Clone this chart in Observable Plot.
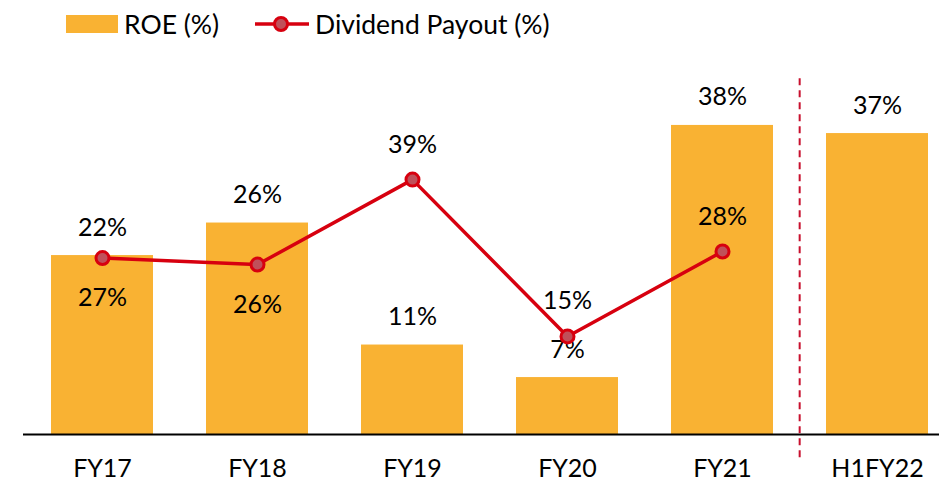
<!DOCTYPE html>
<html>
<head>
<meta charset="utf-8">
<script src="https://cdn.jsdelivr.net/npm/d3@7"></script>
<script src="https://cdn.jsdelivr.net/npm/@observablehq/plot@0.6"></script>
<style>
  html, body { margin: 0; padding: 0; background: #fff; overflow: hidden; }
  body { font-family: Lato, "Liberation Sans", sans-serif; width: 939px; height: 485px; }
  #legend { position: relative; height: 48px; font-size: 26.5px; color: #000; }
  .item { position: absolute; top: 0; height: 48px; display: flex; align-items: center; }
  .swatch { width: 52px; height: 18px; background: #F9B233; margin-right: 6px; }
  #chart svg { display: block; }
</style>
</head>
<body>
<div id="legend">
  <div class="item" style="left:66px;"><div class="swatch"></div><span>ROE (%)</span></div>
  <div class="item" style="left:255px;">
    <svg width="54" height="20" style="margin-right:6px;overflow:visible">
      <line x1="0" y1="10" x2="54" y2="10" stroke="#D7000F" stroke-width="3.5"></line>
      <circle cx="26" cy="10" r="6.5" fill="#C0505A" stroke="#D7000F" stroke-width="3"></circle>
    </svg>
    <span>Dividend Payout (%)</span>
  </div>
</div>
<div id="chart"></div>
<script>
// ---- Data ----
const categories = ["FY17", "FY18", "FY19", "FY20", "FY21", "H1FY22"];
const roe = [22, 26, 11, 7, 38, 37];
const payoutCategories = ["FY17", "FY18", "FY19", "FY20", "FY21"];
const payout = [27, 26, 39, 15, 28];
const payoutLabelSide = ["below", "below", "above", "above", "above"];
const separatorBefore = "H1FY22";

// ---- Axes (primary for ROE, secondary for payout) ----
const roeMax = 45;     // primary axis max
const payoutMax = 56;  // secondary axis max
const toPrimary = v => v * roeMax / payoutMax;

const barData = categories.map((c, i) => ({cat: c, v: roe[i]}));
const lineData = payoutCategories.map((c, i) => ({cat: c, v: payout[i], side: payoutLabelSide[i]}));

const W = 939, H = 437;
const xRange = [23, 957];
const step = (xRange[1] - xRange[0]) / categories.length;
const font = "Lato, 'Liberation Sans', sans-serif";
const red = "#D7000F";

const chart = Plot.plot({
  width: W,
  height: H,
  marginLeft: 23,
  marginRight: 0,
  marginTop: 20,
  marginBottom: 51,
  style: {fontFamily: font, fontSize: "25px", color: "#000", background: "#fff"},
  x: {type: "band", domain: categories, range: xRange, paddingInner: 0.34, paddingOuter: 0.17,
      label: null, tickSize: 0, tickPadding: 25},
  y: {domain: [0, roeMax], axis: null},
  marks: [
    Plot.barY(barData, {x: "cat", y: "v", fill: "#F9B233"}),
    Plot.ruleY([0], {stroke: "#000", strokeWidth: 2}),
    Plot.ruleX([separatorBefore], {x: d => d, y1: -2.85, y2: 44, dx: -step / 2,
      stroke: "#C8102E", strokeWidth: 2, strokeDasharray: "7,5"}),
    Plot.text(barData, {x: "cat", y: "v", text: d => d.v + "%", dy: -28, fontSize: 25, fill: "#000"}),
    Plot.line(lineData, {x: "cat", y: d => toPrimary(d.v), stroke: red, strokeWidth: 3.5}),
    Plot.dot(lineData, {x: "cat", y: d => toPrimary(d.v), r: 6.5, fill: "#C0505A", stroke: red, strokeWidth: 3}),
    Plot.text(lineData.filter(d => d.side === "above"), {x: "cat", y: d => toPrimary(d.v), text: d => d.v + "%", dy: -35, fontSize: 25, fill: "#000"}),
    Plot.text(lineData.filter(d => d.side === "below"), {x: "cat", y: d => toPrimary(d.v), text: d => d.v + "%", dy: 40, fontSize: 25, fill: "#000"})
  ]
});
document.getElementById("chart").appendChild(chart);
</script>
</body>
</html>
